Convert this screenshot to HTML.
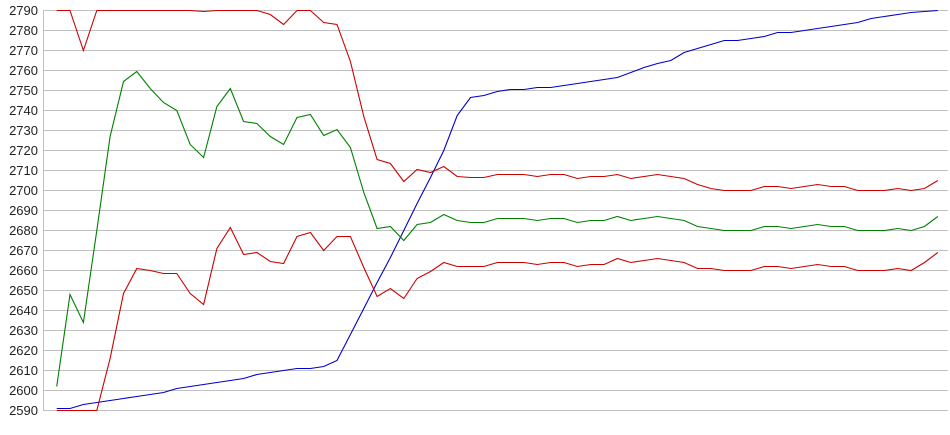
<!DOCTYPE html>
<html><head><meta charset="utf-8">
<style>
html,body{margin:0;padding:0;background:#fff;width:950px;height:435px;overflow:hidden}
svg{display:block}
text{font-family:"Liberation Sans",Arial,sans-serif;font-size:13px;fill:#222}
</style></head>
<body>
<svg id="c" width="950" height="435" xmlns="http://www.w3.org/2000/svg"></svg>
<script>
var ns="http://www.w3.org/2000/svg",svg=document.getElementById('c');
function el(t,a){var e=document.createElementNS(ns,t);for(var k in a)e.setAttribute(k,a[k]);svg.appendChild(e);return e;}
function Y(v){return 10+(2790-v)*2;}
for(var v=2590;v<=2790;v+=10){
  var y=Y(v);
  el('line',{x1:43,x2:948,y1:y+0.5,y2:y+0.5,stroke:'#c0c0c0','stroke-width':1});
  var t=el('text',{x:38,y:y+5,'text-anchor':'end'});t.textContent=v;
}
el('line',{x1:43.5,x2:43.5,y1:10,y2:411,stroke:'#c0c0c0','stroke-width':1});
var up=[2790,2790,2770,2790,2790,2790,2790,2790,2790,2790,2790,2789.5,2790,2790,2790,2790,2788,2783,2790,2790,2784,2783,2764.5,2737,2715.5,2713.5,2704.5,2710.5,2709,2712,2707,2706.5,2706.5,2708,2708,2708,2707,2708,2708,2706,2707,2707,2708,2706,2707,2708,2707,2706,2703,2701,2700,2700,2700,2702,2702,2701,2702,2703,2702,2702,2700,2700,2700,2701,2700,2701,2705];
var gr=[2602,2648,2634,2680,2727,2754.5,2759.5,2751,2744,2740,2723,2716.5,2742,2751,2734.5,2733.5,2727,2723,2736.5,2738,2727.5,2730.5,2721.5,2699,2681,2682,2675,2683,2684,2688,2685,2684,2684,2686,2686,2686,2685,2686,2686,2684,2685,2685,2687,2685,2686,2687,2686,2685,2682,2681,2680,2680,2680,2682,2682,2681,2682,2683,2682,2682,2680,2680,2680,2681,2680,2682,2687];
var lo=[2590,2590,2590,2590,2616,2648.5,2661,2660,2658.5,2658.5,2648.5,2643,2671,2681.5,2668,2669,2664.5,2663.5,2677,2679,2670,2677,2677,2661.5,2647,2651,2646,2656,2659.5,2664,2662,2662,2662,2664,2664,2664,2663,2664,2664,2662,2663,2663,2666,2664,2665,2666,2665,2664,2661,2661,2660,2660,2660,2662,2662,2661,2662,2663,2662,2662,2660,2660,2660,2661,2660,2664,2669];
var bl=[2591,2591,2593,2594,2595,2596,2597,2598,2599,2601,2602,2603,2604,2605,2606,2608,2609,2610,2611,2611,2612,2615,2628,2641,2654,2666.5,2680,2693.5,2706.5,2720,2737.5,2746.5,2747.5,2749.5,2750.5,2750.5,2751.5,2751.5,2752.5,2753.5,2754.5,2755.5,2756.5,2759,2761.5,2763.5,2765,2769,2771,2773,2775,2775,2776,2777,2779,2779,2780,2781,2782,2783,2784,2786,2787,2788,2789,2789.5,2790];
function line(d,c){var p=d.map(function(v,i){return (56.7+i*13.35).toFixed(1)+','+(Y(v)+0.5).toFixed(1);}).join(' ');
 el('polyline',{points:p,fill:'none',stroke:c,'stroke-width':1.1});}
line(bl,'#0000cc');line(lo,'#cc0000');line(gr,'#008000');line(up,'#cc0000');
</script>
</body></html>
